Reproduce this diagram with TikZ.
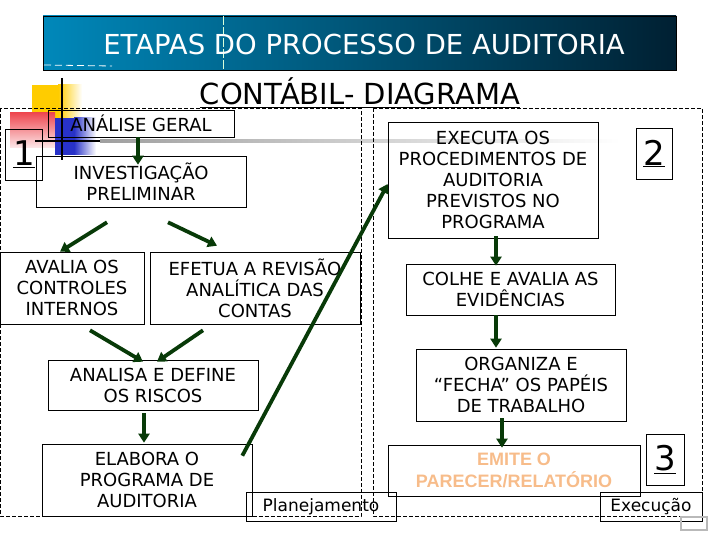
\documentclass[tikz,border=0pt]{standalone}
\usepackage{fontspec}
\setmainfont{DejaVu Sans}
\newfontfamily\arialfont{Liberation Sans}
\usetikzlibrary{arrows.meta,calc}
\definecolor{arrowgreen}{RGB}{8,58,8}
\definecolor{bannerL}{RGB}{0,136,186}
\definecolor{bannerR}{RGB}{0,32,50}
\definecolor{emitecolor}{RGB}{247,188,138}
\definecolor{decoyellow}{RGB}{255,204,0}
\definecolor{decored}{RGB}{235,40,50}
\definecolor{decoblue}{RGB}{40,50,200}
\begin{document}
\begin{tikzpicture}[x=1pt,y=-1pt,
        box/.style={
        draw=black, line width=0.6pt,
        inner sep=0pt, align=center,
        font=\fontsize{18}{21}\selectfont},
        numbox/.style={
        draw=black, line width=0.6pt,
        inner sep=0pt, minimum width=37pt, minimum height=51pt,
        font=\fontsize{34}{34}\selectfont},
        tagbox/.style={
        draw=black, line width=0.6pt,
        inner sep=0pt, minimum height=29pt,
        font=\fontsize{17}{20}\selectfont},
        arr/.style={
        draw=arrowgreen, line width=3.8pt,
        -{Triangle[length=9pt,width=11pt]}},
        panel/.style={
        draw=black, line width=0.5pt,
        dash pattern=on 4pt off 2pt},
        ]
        \useasboundingbox (0,0) rectangle (720,540);

        % banner
        \shade[left color=bannerL, right color=bannerR] (43,16) rectangle (676,70);
        \draw[line width=0.6pt] (43,16) rectangle (676,70);
        \draw[white, line width=0.8pt, dash pattern=on 7pt off 4pt] (44,65) -- (112,66);
        \draw[white!85!green, line width=0.6pt, dash pattern=on 9pt off 2pt] (223,16) -- (223,70);
        \node (titulo) [anchor=base, text=white, font=\fontsize{27.5}{30}\selectfont]
            at (364,55) {ETAPAS DO PROCESSO DE AUDITORIA};
        \node (subtitulo) [anchor=base, font=\fontsize{29}{32}\selectfont]
            at (360,105) {\underline{CONTÁBIL- DIAGRAMA}};

        % decoration
        \fill[decoyellow] (32,85) rectangle (58,122);
        \shade[left color=decoyellow, right color=white] (58,85) rectangle (82,122);
        \shade[top color=decored!85, bottom color=decored!10] (10,113) rectangle (55,148);
        \fill[decoblue] (55,118) rectangle (74,155);
        \shade[left color=decoblue, right color=white] (74,118) rectangle (96,155);
        \shade[left color=gray!75, right color=white] (100,139.5) rectangle (620,142.5);
        \draw[line width=2.5pt] (35,141) -- (100,141);
        \draw[line width=2.5pt] (62,78) -- (62,160);

        % panels
        \draw[panel] (0.5,108) rectangle (361,516);
        \draw[panel] (373,108) rectangle (702,516);

        % planejamento
        \node (geral) [box, minimum width=186pt, minimum height=27pt]
            at (141,123.5) {ANÁLISE GERAL};
        \node (um) [numbox] at (24,154.5) {\underline{1}};
        \node (invest) [box, minimum width=210pt, minimum height=51pt]
            at (141,181.5) {INVESTIGAÇÃO\\PRELIMINAR};
        \node (avalia) [box, minimum width=144pt, minimum height=72pt]
            at (72,288) {AVALIA OS\\CONTROLES\\INTERNOS};
        \node (efetua) [box, minimum width=210pt, minimum height=72pt]
            at (255,288) {EFETUA A REVISÃO\\ANALÍTICA DAS\\CONTAS};
        \node (analisa) [box, minimum width=210pt, minimum height=50pt]
            at (153,385) {ANALISA E DEFINE\\OS RISCOS};
        \node (elabora) [box, minimum width=210pt, minimum height=72pt]
            at (147,480) {ELABORA O\\PROGRAMA DE\\AUDITORIA};
        \node (planej) [tagbox, minimum width=150pt] at (321,506.5) {Planejamento};

        % execucao
        \node (executa) [box, minimum width=210pt, minimum height=116pt]
            at (493,180) {EXECUTA OS\\PROCEDIMENTOS DE\\AUDITORIA\\PREVISTOS NO\\PROGRAMA};
        \node (dois) [numbox, minimum width=36pt] at (654,153.5) {\underline{2}};
        \node (colhe) [box, minimum width=209pt, minimum height=51pt]
            at (510.5,289.5) {COLHE E AVALIA AS\\EVIDÊNCIAS};
        \node (organiza) [box, minimum width=210pt, minimum height=72pt]
            at (521,385) {ORGANIZA E\\“FECHA” OS PAPÉIS\\DE TRABALHO};
        \node (emite) [box, minimum width=252pt, minimum height=51pt, text=emitecolor,
            font=\arialfont\bfseries\fontsize{18}{22}\selectfont]
            at (514,470.5) {EMITE O\\PARECER/RELATÓRIO};
        \node (tres) [numbox, minimum width=38pt] at (665,459.5) {\underline{3}};
        \node (execucao) [tagbox, minimum width=102pt] at (651,506.5) {Execução};
        \draw[gray!55, line width=2pt] (681,517) rectangle (707,530);

        % arrows
        \draw[arr] ($(geral.south)+(-3,0)$) -- ($(invest.north)+(-3,9)$);
        \draw[arr] ($(invest.south)+(-34,15)$) -- ($(avalia.north)+(-12,0)$);
        \draw[arr] ($(invest.south)+(27,15)$) -- ($(efetua.north)+(-38,-6)$);
        \draw[arr] ($(avalia.south)+(18,6)$) -- ($(analisa.north)+(-10,2)$);
        \draw[arr] ($(efetua.south)+(-52,6)$) -- ($(analisa.north)+(4,2)$);
        \draw[arr] ($(analisa.south)+(-9,3)$) -- ($(elabora.north)+(-3,-1)$);
        \draw[arr] ($(elabora.north east)+(-10,12)$) -- ($(executa.west)+(0,4)$);
        \draw[arr] ($(executa.south)+(3,-2)$) -- ($(colhe.north)+(-14.5,2)$);
        \draw[arr] ($(colhe.south)+(-14.5,0)$) -- ($(organiza.north)+(-25,-1)$);
        \draw[arr] ($(organiza.south)+(-19,-3)$) -- ($(emite.north)+(-12,3)$);
    \end{tikzpicture}
\end{document}
